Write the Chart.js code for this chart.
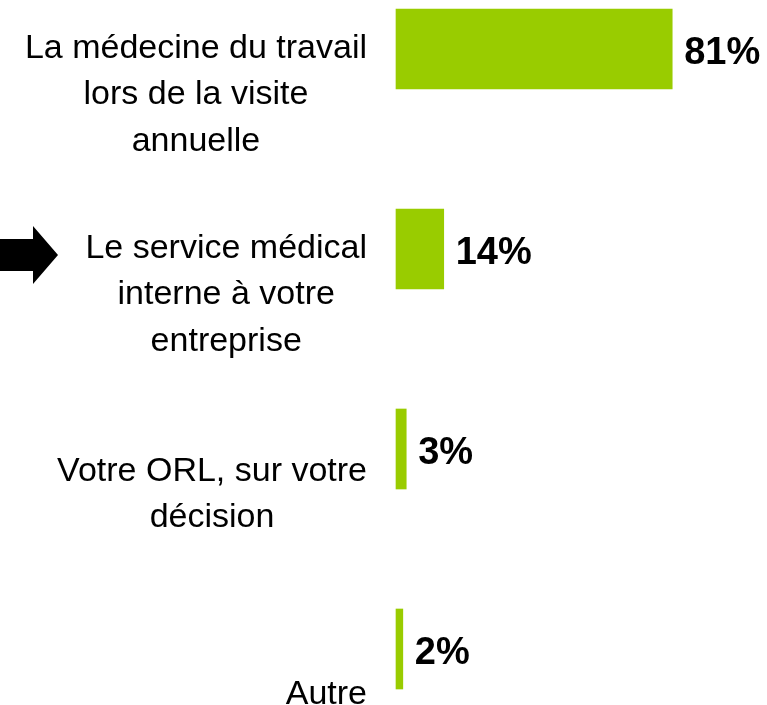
<html>
  <head>
    <meta charset="utf-8">
    <script src="https://cdn.jsdelivr.net/npm/chart.js"></script>
    <style>
      body { margin: 0; background: #fff; }
    </style>
  </head>
  <body>
    <canvas id="myChart" width="767" height="705"></canvas>
    <script>
      const categories = [
        ['La médecine du travail', 'lors de la visite', 'annuelle'],
        ['Le service médical', 'interne à votre', 'entreprise'],
        ['Votre ORL, sur votre', 'décision'],
        ['Autre']
      ];
      const values = [81, 14, 3, 2];
      const valueLabels = ['81%', '14%', '3%', '2%'];
      const highlighted = 1; // category with the arrow

      const fontFamily = '"Liberation Sans", Arial, Helvetica, sans-serif';

      // draws the wrapped category labels, the % labels and the arrow
      const labelPlugin = {
        id: 'labels',
        afterDatasetsDraw(chart) {
          const ctx = chart.ctx;
          const yScale = chart.scales.y;
          const meta = chart.getDatasetMeta(0);
          ctx.save();

          // value labels
          ctx.fillStyle = '#000';
          ctx.font = 'bold 38px ' + fontFamily;
          ctx.textAlign = 'left';
          ctx.textBaseline = 'alphabetic';
          meta.data.forEach((bar, i) => {
            ctx.fillText(valueLabels[i], bar.x + 12, bar.y + 14.5);
          });

          // category labels, centred block, right edge near the bars
          ctx.font = '34px ' + fontFamily;
          ctx.textAlign = 'center';
          const lineH = 46.5;
          categories.forEach((lines, i) => {
            const yc = yScale.getPixelForValue(i) + 43;
            const maxW = Math.max(...lines.map(l => ctx.measureText(l).width));
            const xc = 367 - maxW / 2;
            lines.forEach((l, k) => {
              const y = yc + (k - (lines.length - 1) / 2) * lineH + 12;
              ctx.fillText(l, xc, y);
            });
          });

          // arrow pointing at the highlighted category
          const ya = yScale.getPixelForValue(highlighted);
          ctx.beginPath();
          ctx.moveTo(0, ya - 10);
          ctx.lineTo(33, ya - 10);
          ctx.lineTo(33, ya - 23);
          ctx.lineTo(58, ya + 6);
          ctx.lineTo(33, ya + 35);
          ctx.lineTo(33, ya + 22);
          ctx.lineTo(0, ya + 22);
          ctx.closePath();
          ctx.fill();

          ctx.restore();
        }
      };

      const data = {
        labels: categories,
        datasets: [{
          data: values,
          backgroundColor: '#99CC00',
          borderWidth: 0,
          barThickness: 80,
          clip: false
        }]
      };

      const config = {
        type: 'bar',
        data: data,
        options: {
          indexAxis: 'y',
          responsive: false,
          animation: false,
          layout: { padding: { left: 396, right: 30, top: 49, bottom: 56 } },
          scales: {
            x: { display: false, min: 0, max: 100 },
            y: { display: false, offset: false }
          },
          plugins: {
            legend: { display: false },
            tooltip: { enabled: false }
          }
        },
        plugins: [labelPlugin]
      };

      const ctx = document.getElementById('myChart').getContext('2d');
      const myChart = new Chart(ctx, config);
    </script>
  </body>
</html>
